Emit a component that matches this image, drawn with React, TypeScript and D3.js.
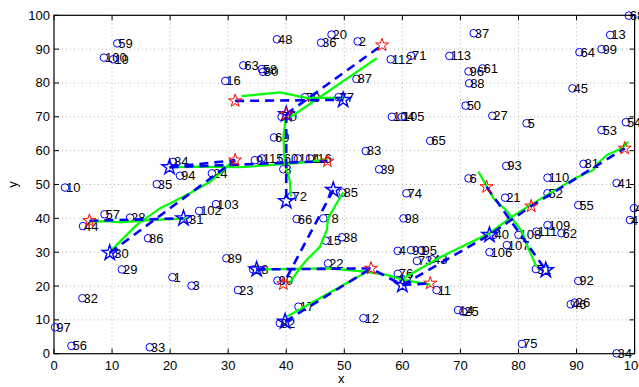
import React from 'react';
import * as d3 from 'd3';

const W = 639;
const H = 387;

const tickValues = [0, 10, 20, 30, 40, 50, 60, 70, 80, 90, 100];

// numbered nodes (blue circles)
const pointIds = [59, 100, 19, 48, 20, 36, 2, 112, 71, 63, 58, 80, 16, 87, 37, 13, 68, 113, 64, 99,
  96, 61, 88, 45, 50, 27, 5, 54, 53, 65, 79, 77, 70, 104, 105, 69, 83, 39, 9, 115,
  60, 114, 116, 8, 72, 85, 74, 10, 84, 94, 35, 24, 103, 102, 31, 57, 44, 28, 86, 30,
  29, 1, 3, 89, 32, 97, 56, 33, 66, 78, 15, 38, 98, 4, 91, 95, 73, 43, 23, 17,
  82, 12, 11, 76, 67, 22, 18, 90, 14, 25, 75, 34, 92, 46, 26, 51, 106, 107, 40, 108,
  111, 109, 62, 55, 52, 110, 93, 6, 21, 81, 41, 42, 47];
const pointX = [10.9, 8.6, 10.2, 38.4, 47.8, 46.0, 52.3, 58.0, 61.5, 32.6, 35.8, 36.0, 29.5, 52.1, 72.3, 95.8, 99.0, 68.1, 90.5, 94.3,
  71.4, 73.8, 71.5, 89.3, 70.9, 75.5, 81.4, 98.5, 94.3, 64.8, 43.2, 49.0, 39.2, 58.2, 59.9, 37.9, 53.7, 56.0, 34.6, 35.8,
  39.4, 42.0, 44.1, 39.5, 40.9, 49.7, 60.7, 1.9, 20.5, 21.7, 17.7, 27.2, 27.9, 25.0, 23.1, 8.7, 5.0, 13.1, 16.2, 10.2,
  11.7, 20.4, 23.7, 29.7, 4.9, 0.2, 3.0, 16.5, 41.8, 46.4, 46.8, 49.6, 60.2, 59.2, 61.5, 63.3, 62.5, 65.1, 31.7, 42.1,
  38.9, 53.3, 65.9, 59.2, 59.2, 47.2, 34.3, 38.5, 69.6, 70.5, 80.6, 96.9, 90.3, 89.0, 89.7, 83.0, 75.0, 78.0, 75.7, 80.0,
  83.1, 85.0, 87.4, 90.3, 85.0, 85.0, 77.9, 71.4, 77.7, 91.2, 96.9, 99.9, 99.2];
const pointY = [91.7, 87.5, 87.0, 92.9, 94.3, 91.9, 92.3, 87.0, 88.0, 85.2, 84.1, 83.3, 80.6, 81.2, 94.7, 94.2, 99.9, 88.0, 89.1, 90.0,
  83.4, 84.3, 79.9, 78.4, 73.3, 70.3, 68.1, 68.4, 66.1, 62.9, 75.8, 75.8, 70.0, 70.0, 70.0, 63.9, 59.9, 54.5, 57.2, 57.7,
  57.7, 57.7, 57.7, 54.5, 46.6, 47.6, 47.4, 49.1, 56.7, 52.6, 50.1, 53.3, 44.2, 42.2, 39.8, 41.2, 37.7, 40.2, 34.1, 29.5,
  24.9, 22.6, 20.1, 28.2, 16.4, 7.8, 2.3, 1.9, 39.8, 40.0, 33.4, 34.4, 40.0, 30.4, 30.6, 30.6, 27.4, 27.9, 18.8, 13.9,
  9.0, 10.5, 18.8, 23.6, 21.8, 26.7, 24.9, 21.6, 12.9, 12.4, 2.9, 0.1, 21.5, 14.6, 15.1, 25.0, 30.0, 32.1, 35.1, 35.1,
  36.1, 38.0, 35.6, 43.9, 47.4, 52.0, 55.5, 51.8, 46.1, 56.1, 50.4, 43.0, 39.5];

// red and blue stars
const redStarX = [56.5, 31.2, 40.0, 31.2, 47.1, 6.1, 74.5, 82.2, 98.3, 39.5, 54.6, 64.8];
const redStarY = [91.2, 74.7, 70.8, 57.2, 56.9, 39.3, 49.3, 43.6, 60.7, 20.6, 25.2, 20.8];
const blueStarX = [49.8, 40.0, 40.0, 19.9, 9.6, 22.3, 48.1, 34.9, 39.8, 60.0, 75.0, 84.7];
const blueStarY = [75.0, 70.8, 45.1, 55.1, 29.8, 40.0, 48.4, 24.9, 9.5, 20.3, 35.1, 24.7];

// dashed straight routes, r = red star index, b = blue star index
const dashedRoutes = [
  ['r1', 'b0'], ['b1', 'r0'], ['b1', 'b2'], ['b3', 'r3'], ['b3', 'r4'], ['b4', 'r3'],
  ['r5', 'b5'], ['b6', 'r9'], ['b7', 'r10', 'b9'], ['b8', 'r10'], ['b9', 'r11'],
  ['b9', 'b10', 'r7', 'r8'], ['r6', 'b11'],
];

// green travelled paths
const greenPaths: [number, number][][] = [
  [[32.3, 76.1], [38.9, 77.2], [43.5, 75.6], [49.8, 75.6]],
  [[39.6, 68.6], [55.6, 87.3]],
  [[40.0, 70.5], [39.5, 64.1], [39.7, 58.2], [40.1, 54.3], [40.6, 51.3], [40.8, 46.4]],
  [[20.5, 55.1], [24.6, 55.3], [32.0, 55.1], [42.4, 56.4], [47.1, 57.4]],
  [[9.9, 30.6], [14.2, 38.0], [18.3, 43.0], [20.8, 45.1], [23.4, 47.4], [26.9, 50.8], [28.9, 53.8], [30.9, 57.2]],
  [[6.1, 39.0], [9.1, 39.2], [11.4, 38.8], [16.5, 39.5], [22.9, 40.0]],
  [[49.8, 47.6], [49.0, 45.4], [47.2, 40.0], [47.0, 36.6], [45.8, 31.6], [43.5, 27.7], [42.1, 24.7], [40.9, 21.7], [40.4, 20.8]],
  [[35.5, 24.9], [47.5, 25.2], [53.9, 24.2], [57.3, 23.3], [60.2, 21.8], [64.8, 20.4]],
  [[40.1, 10.9], [53.6, 23.9]],
  [[59.9, 22.0], [66.5, 28.5], [75.0, 35.6], [78.8, 40.4], [82.3, 44.2], [89.7, 51.8], [92.9, 54.3], [93.7, 56.3], [95.2, 58.7], [97.8, 60.7], [98.9, 62.6]],
  [[73.1, 53.8], [75.7, 45.9], [78.0, 42.2], [79.1, 39.5], [80.6, 36.1], [81.7, 31.1], [83.1, 25.7]],
];

const font = '"Liberation Sans", Arial, Helvetica, sans-serif';

export default function App() {
  const x = d3.scaleLinear().domain([0, 100]).range([54, 634.6]);
  const y = d3.scaleLinear().domain([0, 100]).range([353.7, 15.3]);
  const line = d3.line<[number, number]>().x(d => x(d[0])).y(d => y(d[1]));
  const redStar = d3.symbol(d3.symbolStar, 52)();
  const blueStar = d3.symbol(d3.symbolStar, 72)();

  const starPos = (ref: string): [number, number] => {
    const i = +ref.slice(1);
    return ref[0] === 'r' ? [redStarX[i], redStarY[i]] : [blueStarX[i], blueStarY[i]];
  };

  const [x0, x1] = x.range();
  const [y0, y1] = y.range();

  return (
    <div style={{ position: 'absolute', left: 0, top: 0 }}>
      <svg width={W} height={H} style={{ display: 'block', background: '#fff' }} fontFamily={font}>
        {/* grid */}
        {tickValues.map(t => (
          <g key={`g${t}`} stroke="#a0a0a0" strokeWidth={0.8} strokeDasharray="1,3">
            {t > 0 && t < 100 && <line x1={x(t)} x2={x(t)} y1={y1} y2={y0} />}
            {t > 0 && t < 100 && <line x1={x0} x2={x1} y1={y(t)} y2={y(t)} />}
          </g>
        ))}
        {/* ticks */}
        {tickValues.map(t => (
          <g key={`t${t}`} stroke="#000" strokeWidth={1}>
            <line x1={x(t)} x2={x(t)} y1={y0} y2={y0 - 5} />
            <line x1={x(t)} x2={x(t)} y1={y1} y2={y1 + 5} />
            <line x1={x0} x2={x0 + 5} y1={y(t)} y2={y(t)} />
            <line x1={x1} x2={x1 - 5} y1={y(t)} y2={y(t)} />
          </g>
        ))}
        <rect x={x0} y={y1} width={x1 - x0} height={y0 - y1} fill="none" stroke="#000" strokeWidth={1.2} />
        {tickValues.map(t => (
          <text key={`xl${t}`} x={x(t)} y={y0 + 16} textAnchor="middle" fontSize={13}>{t}</text>
        ))}
        {tickValues.map(t => (
          <text key={`yl${t}`} x={x0 - 4} y={y(t)} textAnchor="end" dominantBaseline="central" fontSize={13}>{t}</text>
        ))}
        <text x={(x0 + x1) / 2 - 3} y={383} textAnchor="middle" fontSize={13}>x</text>
        <text transform={`translate(17,${(y0 + y1) / 2}) rotate(-90)`} textAnchor="middle" fontSize={13}>y</text>

        {/* nodes */}
        {pointIds.map((id, i) => (
          <g key={`p${i}`}>
            <circle cx={x(pointX[i])} cy={y(pointY[i])} r={3.8} fill="none" stroke="#0000ff" strokeWidth={1} />
            <text x={x(pointX[i]) + 1} y={y(pointY[i])} dominantBaseline="central" fontSize={13}>{id}</text>
          </g>
        ))}

        {/* green paths */}
        {greenPaths.map((p, i) => (
          <path key={`gp${i}`} d={line(p) || ''} fill="none" stroke="#00ff00" strokeWidth={2.2} />
        ))}
        {/* dashed routes */}
        {dashedRoutes.map((r, i) => (
          <path key={`dr${i}`} d={line(r.map(starPos)) || ''} fill="none" stroke="#0000ff"
            strokeWidth={2.6} strokeDasharray="9,6" />
        ))}

        {/* stars */}
        {blueStarX.map((v, i) => (
          <path key={`bs${i}`} d={blueStar || ''} transform={`translate(${x(v)},${y(blueStarY[i])})`}
            fill="none" stroke="#0000ff" strokeWidth={1.4} />
        ))}
        {redStarX.map((v, i) => (
          <path key={`rs${i}`} d={redStar || ''} transform={`translate(${x(v)},${y(redStarY[i])})`}
            fill="none" stroke="#ff0000" strokeWidth={1} />
        ))}
      </svg>
    </div>
  );
}
